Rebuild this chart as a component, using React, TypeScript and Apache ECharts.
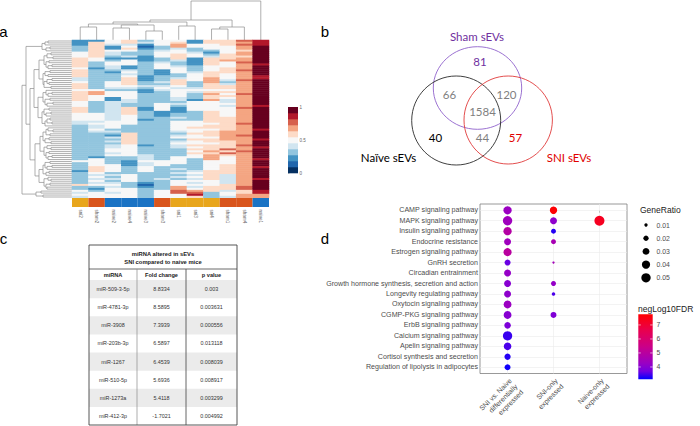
import { useEffect, useRef } from 'react';
import * as echarts from 'echarts';

// ---------------- Panel a: heatmap data ----------------
const HEAT_COLUMNS = ['sni2', 'sham2', 'naive2', 'naive4', 'naive3', 'sham3', 'sni1', 'sni3', 'sni4', 'sham1', 'sham4', 'naive1'];
const HEAT_GROUPS = ['sni', 'sham', 'naive', 'naive', 'naive', 'sham', 'sni', 'sni', 'sni', 'sham', 'sham', 'naive'];
// each row: 12 scaled levels (0..A = 0..10 → 0..1), column order as HEAT_COLUMNS
const HEAT_ROWS = [
  '225635526689', '265645626679', '264425755689', '36251375557A', '36262343557A',
  '36553453356A', '56433554257A', '56433565367A', '56342565466A', '65222362667A',
  '65352342677A', '63553432658A', '635535326579', '63423543557A', '52423553567A',
  '63343253568A', '63253254667A', '63343235657A', '633523356579', '433623457579',
  '43362365748A', '53563463737A', '63563363647A', '63554453667A', '63443544667A',
  '55332455557A', '67552354667A', '67553353758A', '65553353667A', '65253343657A',
  '65243342747A', '53443335547A', '53433545557A', '534335355479', '63462525558A',
  '63462525557A', '63463223657A', '55463233657A', '55453233657A', '55453343667A',
  '55452333667A', '44553355667A', '45553355568A', '34533355667A', '34533356667A',
  '353333555679', '34433345677A', '33363336677A', '33263345678A', '33463355577A',
  '333633366779', '33463345667A', '33363355567A', '33452346668A', '334533456679',
  '33553336687A', '33553335768A', '33453336687A', '33554335767A', '32334355757A',
  '353343537579', '55325553557A', '35324553557A', '35524533567A', '365353335679',
  '36535343567A', '26535334667A', '35333345667A', '34453334647A', '35353345647A',
  '344534346479', '35353355547A', '34432354547A', '65531355567A', '33432374668A',
  '32553375668A', '535535876469', '454535883569', '555535593577', '455535563477',
];
// height at which neighbouring leaves are first joined (dendrograms)
const COLUMN_JOIN_HEIGHTS = [13, 16, 12, 15, 9, 18, 14, 20, 11, 13, 39];
const ROW_JOIN_HEIGHTS = [
  24, 27, 30, 22, 26, 46,
  21, 25, 19, 28, 23, 26, 20, 24, 33,
  22, 27, 24, 29, 20, 25, 23, 28, 21, 38,
  26, 20, 24, 29, 22, 27, 19, 25, 34,
  23, 28, 21, 26, 30, 22, 25, 20, 27, 42,
  24, 19, 26, 22, 29, 23, 27, 21, 32,
  25, 21, 28, 23, 26, 20, 24, 37,
  22, 27, 20, 25, 29, 23, 26, 33,
  24, 21, 28, 22, 26, 25, 50,
  31, 36, 29,
];
const HEAT_LEGEND_TICKS = [0, 0.5, 1];

// ---------------- Panel b: Venn ----------------
const VENN_SET_LABELS = ['Sham sEVs', 'Naïve sEVs', 'SNI sEVs'];
const VENN_REGION_COUNTS = [81, 66, 120, 1584, 40, 44, 57]; // sham only, sham∩naive, sham∩sni, all, naive only, naive∩sni, sni only

// ---------------- Panel c: table ----------------
const TABLE_TITLE = ['miRNA altered in sEVs', 'SNI compared to naive mice'];
const TABLE_HEADERS = ['miRNA', 'Fold change', 'p value'];
const MIRNA = ['miR-509-3-5p', 'miR-4781-3p', 'miR-3908', 'miR-203b-3p', 'miR-1267', 'miR-510-5p', 'miR-1273a', 'miR-412-3p'];
const FOLD_CHANGE = [8.8334, 8.5895, 7.3939, 6.5897, 6.4539, 5.6936, 5.4118, -1.7021];
const P_VALUE = [0.003, 0.003631, 0.000556, 0.013118, 0.008039, 0.008917, 0.003299, 0.004992];

// ---------------- Panel d: KEGG dot plot ----------------
const PATHWAYS = [
  'CAMP signaling pathway', 'MAPK signaling pathway', 'Insulin signaling pathway', 'Endocrine resistance',
  'Estrogen signaling pathway', 'GnRH secretion', 'Circadian entrainment', 'Growth hormone synthesis, secretion and action',
  'Longevity regulating pathway', 'Oxytocin signaling pathway', 'CGMP-PKG signaling pathway', 'ErbB signaling pathway',
  'Calcium signaling pathway', 'Apelin signaling pathway', 'Cortisol synthesis and secretion', 'Regulation of lipolysis in adipocytes',
];
const COMPARISONS = ['SNI vs. Naive\ndifferentially\nexpressed', 'SNI-only\nexpressed', 'Naive-only\nexpressed'];
const RATIO_SNI_VS_NAIVE = [0.041, 0.05, 0.041, 0.031, 0.039, 0.024, 0.031, 0.031, 0.031, 0.038, 0.038, 0.028, 0.05, 0.036, 0.026, 0.024];
const FDR_SNI_VS_NAIVE = [4.3, 4.4, 4.9, 4.4, 5.0, 3.65, 4.2, 4.0, 4.1, 4.3, 4.0, 3.85, 3.4, 3.5, 3.3, 3.2];
const RATIO_SNI_ONLY = [0.034, 0.031, 0.018, 0.018, null, 0.0063, null, 0.018, 0.011, null, 0.024, null, null, null, null, null];
const FDR_SNI_ONLY = [7.7, 4.1, 3.3, 4.6, null, 4.5, null, 4.2, 3.5, null, 3.9, null, null, null, null, null];
const RATIO_NAIVE_ONLY = [null, 0.057, null, null, null, null, null, null, null, null, null, null, null, null, null, null];
const FDR_NAIVE_ONLY = [null, 7.3, null, null, null, null, null, null, null, null, null, null, null, null, null, null];
const GENE_RATIO_LEGEND = [0.01, 0.02, 0.03, 0.04, 0.05];
const FDR_LEGEND_TICKS = [4, 5, 6, 7];
const FDR_MIN = 3.12;
const FDR_MAX = 7.76;

// ---------------- styles ----------------
const HEAT_PALETTE = ['#053061', '#2166ac', '#4393c3', '#92c5de', '#d1e5f0', '#f7f7f7', '#fddbc7', '#f4a582', '#d6604d', '#b2182b', '#67001f'];
const GROUP_COLORS: Record<string, string> = { sni: '#E8A61C', sham: '#D9551C', naive: '#1A73C4' };
const FDR_COLORS = ['#0000FF', '#7300E0', '#9A00C3', '#B200A6', '#CA0089', '#D9006C', '#E8004F', '#F40028', '#FF0000'];
const DENDRO_COLOR = '#8c8c8c';

function buildDendrogram(joins: number[]) {
  const links: number[][] = [];
  const rec = (lo: number, hi: number): { pos: number; h: number } => {
    if (lo === hi) return { pos: lo, h: 0 };
    let k = lo;
    for (let i = lo; i < hi; i++) if (joins[i] > joins[k]) k = i;
    const l = rec(lo, k);
    const r = rec(k + 1, hi);
    links.push([l.pos, l.h, r.pos, r.h, joins[k]]);
    return { pos: (l.pos + r.pos) / 2, h: joins[k] };
  };
  rec(0, joins.length);
  return links;
}

const sizeFor = (v: number) => Math.max(1.2, -1.55 + 48.5 * Math.sqrt(v));

function txt(x: number, y: number, text: string, o: any = {}) {
  const align = o.align || 'center';
  const valign = o.valign || 'middle';
  return {
    type: 'text',
    x,
    y,
    silent: true,
    style: {
      text,
      fontSize: o.size || 7,
      fontFamily: o.family || 'Liberation Sans',
      fontWeight: o.weight || 'normal',
      fill: o.color || '#000',
      textAlign: align,
      textVerticalAlign: valign,
      align,
      verticalAlign: valign,
    },
  };
}

export default function App() {
  const ref = useRef<HTMLDivElement>(null);

  useEffect(() => {
    document.body.style.margin = '0';
    const chart = echarts.init(ref.current as HTMLDivElement, null, { renderer: 'svg' });

    // heatmap cells
    const heatData: number[][] = [];
    HEAT_ROWS.forEach((row, r) => {
      for (let c = 0; c < HEAT_COLUMNS.length; c++) heatData.push([c, r, parseInt(row[c], 11)]);
    });
    const rowIds = HEAT_ROWS.map((_, i) => String(i));

    const colLinks = buildDendrogram(COLUMN_JOIN_HEIGHTS);
    const rowLinks = buildDendrogram(ROW_JOIN_HEIGHTS).map((l) => [l[1], l[0], l[3], l[2], l[4]]);

    // dot plot
    const ratios = [RATIO_SNI_VS_NAIVE, RATIO_SNI_ONLY, RATIO_NAIVE_ONLY];
    const fdrs = [FDR_SNI_VS_NAIVE, FDR_SNI_ONLY, FDR_NAIVE_ONLY];
    const dotData: number[][] = [];
    ratios.forEach((arr, g) => {
      arr.forEach((v, p) => {
        if (v != null && fdrs[g][p] != null) dotData.push([g, p, fdrs[g][p] as number, v]);
      });
    });

    const lineStyle = { stroke: DENDRO_COLOR, lineWidth: 0.7, fill: 'none' };

    // ---------- graphic elements ----------
    const G: any[] = [];
    // panel letters
    G.push(txt(3.5, 31, 'a', { size: 15, family: 'Liberation Sans' }));
    G.push(txt(325, 31, 'b', { size: 15 }));
    G.push(txt(3.5, 238, 'c', { size: 15 }));
    G.push(txt(325, 238, 'd', { size: 15 }));

    // Venn diagram
    const vennFont = 'Lato';
    G.push({ type: 'ellipse', silent: true, shape: { cx: 477.5, cy: 88, rx: 44.2, ry: 41.3 }, style: { fill: 'none', stroke: '#9062cc', lineWidth: 0.9 } });
    G.push({ type: 'ellipse', silent: true, shape: { cx: 456.2, cy: 120.5, rx: 44.5, ry: 44.5 }, style: { fill: 'none', stroke: '#2a2a2a', lineWidth: 0.9 } });
    G.push({ type: 'ellipse', silent: true, shape: { cx: 508.2, cy: 120, rx: 44.2, ry: 44 }, style: { fill: 'none', stroke: '#e03a3a', lineWidth: 0.9 } });
    const vennLabelPos = [[477, 36, '#7030A0'], [388.5, 157, '#000000'], [569, 157, '#E00000']];
    VENN_SET_LABELS.forEach((s, i) => {
      const p = vennLabelPos[i];
      G.push(txt(p[0] as number, p[1] as number, s, { size: 11.5, family: vennFont, color: p[2] }));
    });
    const vennCountPos = [
      [480, 61.5, '#7030A0'], [449.5, 94.5, '#7f7f7f'], [506.5, 94.5, '#7f7f7f'], [482.5, 111, '#7f7f7f'],
      [435.5, 137.5, '#000000'], [482.5, 137.5, '#7f7f7f'], [515.5, 137.5, '#E00000'],
    ];
    VENN_REGION_COUNTS.forEach((n, i) => {
      const p = vennCountPos[i];
      G.push(txt(p[0] as number, p[1] as number, String(n), { size: 11.5, family: vennFont, color: p[2] }));
    });

    // table
    const tL = 89, tR = 237, tT = 245, tB = 425, rowTop = 280, rowH = (tB - rowTop) / MIRNA.length;
    const colX = [89, 137, 186, 237];
    MIRNA.forEach((_, i) => {
      if (i % 2 === 0) G.push({ type: 'rect', silent: true, shape: { x: tL, y: rowTop + i * rowH, width: tR - tL, height: rowH }, style: { fill: '#ebebeb' } });
    });
    G.push({ type: 'line', silent: true, shape: { x1: tL, y1: 269, x2: tR, y2: 269 }, style: { stroke: '#444', lineWidth: 0.8 } });
    G.push({ type: 'line', silent: true, shape: { x1: colX[1], y1: 269, x2: colX[1], y2: tB }, style: { stroke: '#8a8a8a', lineWidth: 0.7 } });
    G.push({ type: 'line', silent: true, shape: { x1: colX[2], y1: 269, x2: colX[2], y2: tB }, style: { stroke: '#555', lineWidth: 0.9 } });
    G.push({ type: 'rect', silent: true, shape: { x: tL, y: tT, width: tR - tL, height: tB - tT }, style: { fill: 'none', stroke: '#444', lineWidth: 0.9 } });
    TABLE_TITLE.forEach((t, i) => G.push(txt((tL + tR) / 2, 254 + i * 8, t, { size: 5.8, weight: 'bold', color: '#222' })));
    TABLE_HEADERS.forEach((h, j) => G.push(txt((colX[j] + colX[j + 1]) / 2, 274.5, h, { size: 5.6, weight: 'bold', color: '#222' })));
    MIRNA.forEach((m, i) => {
      const cy = rowTop + (i + 0.5) * rowH;
      const cells = [m, String(FOLD_CHANGE[i]), String(P_VALUE[i])];
      cells.forEach((c, j) => G.push(txt((colX[j] + colX[j + 1]) / 2, cy, c, { size: 5.4, color: '#333' })));
    });

    // GeneRatio legend
    G.push(txt(640, 210, 'GeneRatio', { size: 8.5, align: 'left', color: '#1a1a1a' }));
    GENE_RATIO_LEGEND.forEach((v, i) => {
      const cy = 225 + i * 13.2;
      G.push({ type: 'circle', silent: true, shape: { cx: 646, cy, r: sizeFor(v) / 2 }, style: { fill: '#000' } });
      G.push(txt(656.5, cy, String(v), { size: 6.9, align: 'left', color: '#4d4d4d' }));
    });

    // negLog10FDR legend
    const bx = 638.3, by = 314.3, bw = 14.4, bh = 65;
    G.push(txt(638, 308.5, 'negLog10FDR', { size: 8.5, align: 'left', color: '#1a1a1a' }));
    G.push({
      type: 'rect', silent: true, shape: { x: bx, y: by, width: bw, height: bh },
      style: { fill: new echarts.graphic.LinearGradient(0, 1, 0, 0, FDR_COLORS.map((c, i) => ({ offset: i / (FDR_COLORS.length - 1), color: c }))) },
    });
    FDR_LEGEND_TICKS.forEach((v) => {
      const y = by + bh - ((v - FDR_MIN) / (FDR_MAX - FDR_MIN)) * bh;
      G.push({ type: 'line', silent: true, shape: { x1: bx, y1: y, x2: bx + 2.5, y2: y }, style: { stroke: '#fff', lineWidth: 0.6 } });
      G.push({ type: 'line', silent: true, shape: { x1: bx + bw - 2.5, y1: y, x2: bx + bw, y2: y }, style: { stroke: '#fff', lineWidth: 0.6 } });
      G.push(txt(656.5, y, String(v), { size: 6.9, align: 'left', color: '#4d4d4d' }));
    });

    const option: any = {
      animation: false,
      backgroundColor: '#ffffff',
      textStyle: { fontFamily: 'Liberation Sans' },
      grid: [
        { left: 72, top: 0, width: 197, height: 40 },
        { left: 20, top: 40, width: 52, height: 158 },
        { left: 72, top: 40, width: 197, height: 158 },
        { left: 72, top: 198, width: 197, height: 9 },
        { left: 288, top: 107, width: 10, height: 66 },
        { left: 480, top: 204, width: 147, height: 178, show: true, borderColor: '#7f7f7f', borderWidth: 0.8, backgroundColor: '#ffffff' },
      ],
      xAxis: [
        { type: 'value', gridIndex: 0, min: -0.5, max: HEAT_COLUMNS.length - 0.5, show: false },
        { type: 'value', gridIndex: 1, min: 0, max: 52, inverse: true, show: false },
        { type: 'category', gridIndex: 2, data: HEAT_COLUMNS, show: false },
        {
          type: 'category', gridIndex: 3, data: HEAT_COLUMNS,
          axisLine: { show: false }, axisTick: { show: false },
          axisLabel: { interval: 0, rotate: -90, fontSize: 4.6, color: '#666', margin: 2.5 },
        },
        { type: 'value', gridIndex: 4, min: 0, max: 1, show: false },
        {
          type: 'value', gridIndex: 5, min: -0.6, max: COMPARISONS.length - 0.4,
          axisLine: { show: false }, splitLine: { show: false },
          axisTick: { show: true, length: 2.5, customValues: COMPARISONS.map((_, i) => i), lineStyle: { color: '#333', width: 0.6 } },
          axisLabel: {
            customValues: COMPARISONS.map((_, i) => i),
            formatter: (v: number) => COMPARISONS[Math.round(v)],
            rotate: 45, align: 'right', verticalAlign: 'top', fontSize: 7, lineHeight: 8.2, color: '#4d4d4d', margin: 3,
          },
        },
      ],
      yAxis: [
        { type: 'value', gridIndex: 0, min: 0, max: 40, show: false },
        { type: 'value', gridIndex: 1, min: -0.5, max: HEAT_ROWS.length - 0.5, inverse: true, show: false },
        { type: 'category', gridIndex: 2, data: rowIds, inverse: true, show: false },
        { type: 'value', gridIndex: 3, min: 0, max: 1, show: false },
        {
          type: 'value', gridIndex: 4, min: 0, max: 1, interval: 0.5, position: 'right',
          axisLine: { show: false }, splitLine: { show: false },
          axisTick: { show: true, length: 1.5, lineStyle: { color: '#999', width: 0.5 } },
          axisLabel: { fontSize: 4.5, color: '#666', margin: 1.5, customValues: HEAT_LEGEND_TICKS },
        },
        {
          type: 'value', gridIndex: 5, min: -0.6, max: PATHWAYS.length - 0.4, inverse: true,
          axisLine: { show: false }, splitLine: { show: false },
          axisTick: { show: true, length: 2.5, customValues: PATHWAYS.map((_, i) => i), lineStyle: { color: '#333', width: 0.6 } },
          axisLabel: {
            customValues: PATHWAYS.map((_, i) => i),
            formatter: (v: number) => PATHWAYS[Math.round(v)],
            fontSize: 7.1, color: '#4d4d4d', margin: 2,
          },
        },
      ],
      visualMap: [
        { type: 'continuous', show: false, seriesIndex: 2, dimension: 2, min: 0, max: 10, inRange: { color: HEAT_PALETTE } },
        { type: 'continuous', show: false, seriesIndex: 6, dimension: 2, min: FDR_MIN, max: FDR_MAX, inRange: { color: FDR_COLORS } },
      ],
      series: [
        {
          type: 'custom', xAxisIndex: 0, yAxisIndex: 0, data: colLinks, silent: true, clip: false,
          renderItem: (_p: any, api: any) => {
            const xl = api.value(0), hl = api.value(1), xr = api.value(2), hr = api.value(3), h = api.value(4);
            return { type: 'polyline', shape: { points: [api.coord([xl, hl]), api.coord([xl, h]), api.coord([xr, h]), api.coord([xr, hr])] }, style: lineStyle };
          },
        },
        {
          type: 'custom', xAxisIndex: 1, yAxisIndex: 1, data: rowLinks, silent: true, clip: false,
          renderItem: (_p: any, api: any) => {
            const hl = api.value(0), yl = api.value(1), hr = api.value(2), yr = api.value(3), h = api.value(4);
            return { type: 'polyline', shape: { points: [api.coord([hl, yl]), api.coord([h, yl]), api.coord([h, yr]), api.coord([hr, yr])] }, style: lineStyle };
          },
        },
        { type: 'heatmap', xAxisIndex: 2, yAxisIndex: 2, data: heatData, silent: true },
        {
          type: 'bar', xAxisIndex: 3, yAxisIndex: 3, silent: true, barWidth: '100%', barCategoryGap: 0,
          data: HEAT_GROUPS.map((g) => ({ value: 1, itemStyle: { color: GROUP_COLORS[g] } })),
        },
        {
          type: 'custom', xAxisIndex: 4, yAxisIndex: 4, silent: true, data: HEAT_PALETTE.map((_, i) => [i]),
          renderItem: (_p: any, api: any) => {
            const i = api.value(0);
            const n = HEAT_PALETTE.length;
            const p0 = api.coord([0, (i + 1) / n]);
            const p1 = api.coord([1, i / n]);
            return { type: 'rect', shape: { x: p0[0], y: p0[1], width: p1[0] - p0[0], height: p1[1] - p0[1] + 0.3 }, style: { fill: HEAT_PALETTE[i] } };
          },
        },
        {
          type: 'scatter', xAxisIndex: 5, yAxisIndex: 5, data: [], silent: true, z: 1,
          markLine: {
            silent: true, z: 1, symbol: ['none', 'none'], label: { show: false },
            lineStyle: { color: '#ebebeb', width: 0.6, type: 'solid' },
            data: [...COMPARISONS.map((_, i) => ({ xAxis: i })), ...PATHWAYS.map((_, i) => ({ yAxis: i }))],
          },
        },
        {
          type: 'scatter', xAxisIndex: 5, yAxisIndex: 5, z: 10, silent: true, data: dotData,
          symbolSize: (val: number[]) => sizeFor(val[3]),
          itemStyle: { opacity: 1 },
        },
      ],
      graphic: { elements: G },
    };

    chart.setOption(option);
    return () => chart.dispose();
  }, []);

  return <div ref={ref} style={{ position: 'absolute', left: 0, top: 0, width: 700, height: 426, background: '#fff' }} />;
}
